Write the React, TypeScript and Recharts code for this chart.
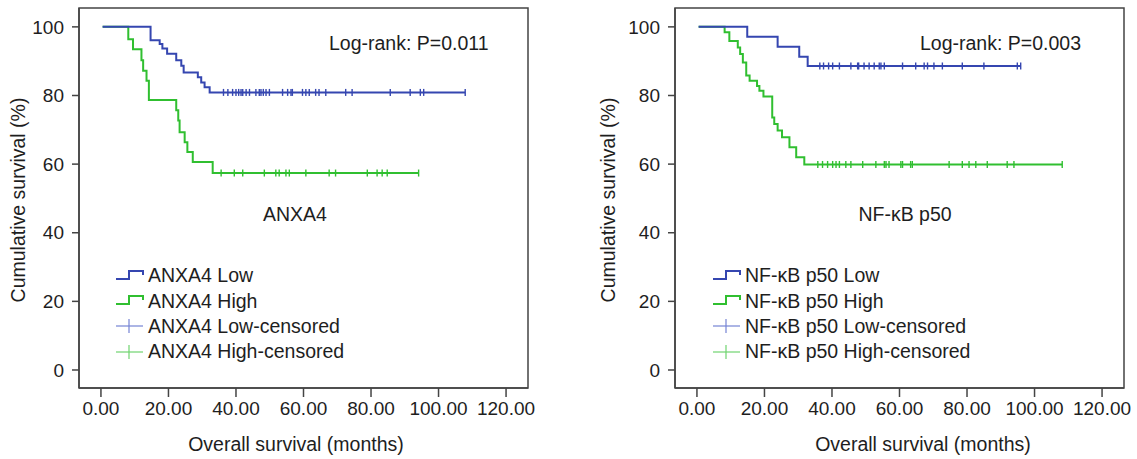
import React from 'react';
import { ComposedChart, Line, Scatter, XAxis, YAxis, ReferenceArea, Legend } from 'recharts';

const xTicks = [0, 20, 40, 60, 80, 100, 120];
const yTicks = [0, 20, 40, 60, 80, 100];

// ANXA4 low expression: event times (months) and survival (%)
const anxaLowTimes = [0.5, 14.7, 17.4, 18.2, 19.6, 22.3, 23.8, 24.5, 28.7, 29.7, 30.7, 32.2];
const anxaLowSurv = [100, 96.1, 95.0, 93.7, 92.2, 90.3, 88.7, 86.7, 85.3, 83.8, 82.4, 80.9];
const anxaLowCensor = [
  36.3, 37.6, 39.0, 40.0, 40.8, 41.5, 42.0, 43.0, 44.0, 45.9, 46.9, 47.4, 48.1, 48.9, 49.9,
  53.8, 55.3, 56.3, 56.7, 59.7, 60.7, 61.7, 63.6, 64.6, 66.6, 72.5, 74.4, 85.7, 91.6, 94.6,
  95.6, 107.9,
];

// ANXA4 high expression
const anxaHighTimes = [0.5, 8.1, 9.5, 12.0, 12.5, 13.5, 14.2, 22.3, 22.9, 23.3, 24.8, 25.6, 27.2, 33.1];
const anxaHighSurv = [100, 96.4, 93.5, 90.3, 87.2, 84.3, 78.7, 75.7, 72.7, 69.3, 66.4, 63.5, 60.6, 57.4];
const anxaHighCensor = [
  35.6, 39.5, 42.0, 48.4, 51.8, 52.8, 54.8, 55.8, 60.7, 67.6, 69.5, 78.9, 81.8, 83.3, 84.8, 94.1,
];

// NF-kB p50 low expression
const nfLowTimes = [0.5, 14.9, 23.9, 30.3, 32.8];
const nfLowSurv = [100, 97.1, 94.2, 91.3, 88.6];
const nfLowCensor = [
  36.4, 37.5, 39.0, 40.2, 42.2, 45.6, 47.6, 47.9, 49.5, 51.0, 52.5, 54.0, 54.5, 55.5, 60.9,
  64.8, 67.3, 68.3, 70.2, 72.7, 78.6, 85.0, 94.9, 95.9,
];

// NF-kB p50 high expression
const nfHighTimes = [
  0.5, 8.2, 9.6, 12.1, 12.8, 13.6, 14.6, 15.6, 17.8, 18.5, 19.7, 22.3, 22.9, 23.9, 25.2, 27.4, 29.4, 31.8,
];
const nfHighSurv = [
  100, 98.4, 95.9, 94.0, 92.1, 89.6, 85.8, 84.3, 82.8, 81.4, 79.7, 73.6, 71.7, 69.8, 67.8, 64.9, 62.0, 59.9,
];
const nfHighCensor = [
  35.8, 37.2, 38.7, 40.2, 41.2, 42.2, 44.1, 45.6, 49.1, 53.0, 55.5, 56.0, 56.9, 60.4, 60.9, 63.3,
  63.8, 74.7, 78.6, 80.6, 82.6, 86.0, 91.9, 93.9, 108.2,
];

const BLUE = '#3546b0';
const GREEN = '#30bf30';
const BLUE_LIGHT = '#7583d4';
const GREEN_LIGHT = '#6fd46f';
const AXIS = '#444';
const TEXT = '#1e1e1e';
const FONT = '"Liberation Sans", Arial, sans-serif';

const X_DOMAIN = [-6.5, 126.5];
const Y_DOMAIN = [-5.25, 105.5];

const levelAt = (times: number[], surv: number[], t: number) => {
  let v = surv[0];
  times.forEach((tt, i) => {
    if (tt <= t) v = surv[i];
  });
  return v;
};

const stepData = (times: number[], surv: number[], censor: number[]) => {
  const pts = times.map((t, i) => ({ t, v: surv[i] }));
  const end = Math.max(...censor);
  pts.push({ t: end, v: levelAt(times, surv, end) });
  return pts;
};

const censorData = (times: number[], surv: number[], censor: number[]) =>
  censor.map((t) => ({ t, v: levelAt(times, surv, t) }));

const censorMark = (color: string) => (props: any) => {
  const { cx, cy } = props;
  return <line x1={cx} x2={cx} y1={cy - 3.5} y2={cy + 3.5} stroke={color} strokeWidth={1.4} />;
};

const StepIcon = ({ color }: { color: string }) => (
  <svg width={30} height={14} style={{ display: 'block' }}>
    <polyline points="1,10 14,10 14,2 28,2 28,6" fill="none" stroke={color} strokeWidth={2} />
  </svg>
);

const CrossIcon = ({ color }: { color: string }) => (
  <svg width={30} height={16} style={{ display: 'block' }}>
    <line x1={1} x2={28} y1={8} y2={8} stroke={color} strokeWidth={1.2} />
    <line x1={14} x2={14} y1={1} y2={15} stroke={color} strokeWidth={1.2} />
  </svg>
);

type KMProps = {
  left: number;
  width: number;
  yAxisWidth: number;
  name: string;
  pText: string;
  low: { times: number[]; surv: number[]; censor: number[] };
  high: { times: number[]; surv: number[]; censor: number[] };
  yTitleX: number;
  xTitleX: number;
  pX: number;
  nameX: number;
  legendX: number;
};

const KMChart = (p: KMProps) => {
  const lowLine = stepData(p.low.times, p.low.surv, p.low.censor);
  const highLine = stepData(p.high.times, p.high.surv, p.high.censor);
  const lowCens = censorData(p.low.times, p.low.surv, p.low.censor);
  const highCens = censorData(p.high.times, p.high.surv, p.high.censor);

  const legendItems = [
    { label: `${p.name} Low`, icon: <StepIcon color={BLUE} /> },
    { label: `${p.name} High`, icon: <StepIcon color={GREEN} /> },
    { label: `${p.name} Low-censored`, icon: <CrossIcon color={BLUE_LIGHT} /> },
    { label: `${p.name} High-censored`, icon: <CrossIcon color={GREEN_LIGHT} /> },
  ];

  const renderLegend = () => (
    <div>
      {legendItems.map((it) => (
        <div key={it.label} style={{ display: 'flex', alignItems: 'center', height: 25.4 }}>
          {it.icon}
          <span style={{ marginLeft: 3, fontSize: 19.5, color: TEXT, whiteSpace: 'nowrap' }}>{it.label}</span>
        </div>
      ))}
    </div>
  );

  const yTitle = (props: any) => {
    const vb = props.viewBox || { y: 8, height: 380 };
    const cy = vb.y + vb.height / 2 + 2;
    return (
      <text
        x={p.yTitleX}
        y={cy}
        transform={`rotate(-90, ${p.yTitleX}, ${cy})`}
        textAnchor="middle"
        dominantBaseline="central"
        fontSize={19.5}
        fill={TEXT}
      >
        Cumulative survival (%)
      </text>
    );
  };

  const xTitle = () => (
    <text x={p.xTitleX} y={444} textAnchor="middle" dominantBaseline="central" fontSize={19.5} fill={TEXT}>
      Overall survival (months)
    </text>
  );

  return (
    <div style={{ position: 'absolute', left: p.left, top: 0, width: p.width, height: 459 }}>
      <ComposedChart
        width={p.width}
        height={459}
        margin={{ top: 8, right: p.width - p.yAxisWidth - 449, bottom: 0, left: 0 }}
      >
        <XAxis
          type="number"
          dataKey="t"
          domain={X_DOMAIN}
          ticks={xTicks}
          allowDataOverflow
          interval={0}
          height={71}
          tickFormatter={(v: number) => v.toFixed(2)}
          tickSize={9}
          tickMargin={5}
          stroke={AXIS}
          strokeWidth={1.5}
          tick={{ fill: TEXT, fontSize: 19 }}
          label={{ content: xTitle }}
        />
        <YAxis
          type="number"
          dataKey="v"
          domain={Y_DOMAIN}
          ticks={yTicks}
          allowDataOverflow
          interval={0}
          width={p.yAxisWidth}
          tickSize={7}
          tickMargin={8}
          stroke={AXIS}
          strokeWidth={1.5}
          tick={{ fill: TEXT, fontSize: 19 }}
          label={{ content: yTitle }}
        />
        <ReferenceArea
          x1={X_DOMAIN[0]}
          x2={X_DOMAIN[1]}
          y1={Y_DOMAIN[0]}
          y2={Y_DOMAIN[1]}
          fill="none"
          stroke={AXIS}
          strokeWidth={1.5}
          ifOverflow="visible"
        />
        <Line
          data={highLine}
          dataKey="v"
          type="stepAfter"
          stroke={GREEN}
          strokeWidth={2}
          dot={false}
          isAnimationActive={false}
        />
        <Line
          data={lowLine}
          dataKey="v"
          type="stepAfter"
          stroke={BLUE}
          strokeWidth={2}
          dot={false}
          isAnimationActive={false}
        />
        <Scatter data={highCens} dataKey="v" shape={censorMark(GREEN)} isAnimationActive={false} />
        <Scatter data={lowCens} dataKey="v" shape={censorMark(BLUE)} isAnimationActive={false} />
        <Legend
          layout="vertical"
          align="center"
          verticalAlign="middle"
          content={renderLegend}
          wrapperStyle={{ left: p.legendX, top: 263, width: 'auto' }}
        />
      </ComposedChart>
      <div
        style={{
          position: 'absolute',
          left: p.pX,
          top: 42.5,
          transform: 'translateY(-50%)',
          fontSize: 19.5,
          color: TEXT,
          whiteSpace: 'nowrap',
        }}
      >
        {p.pText}
      </div>
      <div
        style={{
          position: 'absolute',
          left: p.nameX,
          top: 214,
          transform: 'translate(-50%, -50%)',
          fontSize: 19.5,
          color: TEXT,
          whiteSpace: 'nowrap',
        }}
      >
        {p.name}
      </div>
    </div>
  );
};

export default function App() {
  return (
    <div
      style={{
        position: 'absolute',
        left: 0,
        top: 0,
        width: 1137,
        height: 459,
        background: '#fff',
        fontFamily: FONT,
      }}
    >
      <KMChart
        left={0}
        width={560}
        yAxisWidth={79}
        name="ANXA4"
        pText="Log-rank: P=0.011"
        low={{ times: anxaLowTimes, surv: anxaLowSurv, censor: anxaLowCensor }}
        high={{ times: anxaHighTimes, surv: anxaHighSurv, censor: anxaHighCensor }}
        yTitleX={18}
        xTitleX={296}
        pX={329}
        nameX={295}
        legendX={115}
      />
      <KMChart
        left={560}
        width={577}
        yAxisWidth={115}
        name="NF-κB p50"
        pText="Log-rank: P=0.003"
        low={{ times: nfLowTimes, surv: nfLowSurv, censor: nfLowCensor }}
        high={{ times: nfHighTimes, surv: nfHighSurv, censor: nfHighCensor }}
        yTitleX={48}
        xTitleX={363}
        pX={360}
        nameX={345}
        legendX={152}
      />
    </div>
  );
}
